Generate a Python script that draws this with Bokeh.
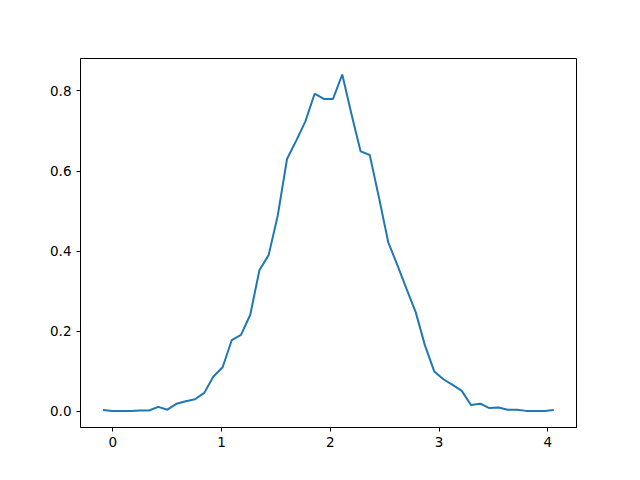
from bokeh.plotting import figure
from bokeh.models import Range1d, FixedTicker, NumeralTickFormatter
from bokeh.embed import file_html
from bokeh.resources import INLINE

x_vals = [-0.090, -0.005, 0.079, 0.164, 0.248, 0.333, 0.418, 0.502, 0.587, 0.671,
          0.756, 0.841, 0.925, 1.010, 1.094, 1.179, 1.264, 1.348, 1.433, 1.517,
          1.602, 1.687, 1.771, 1.856, 1.940, 2.025, 2.110, 2.194, 2.279, 2.363,
          2.448, 2.533, 2.617, 2.702, 2.786, 2.871, 2.956, 3.040, 3.125, 3.209,
          3.294, 3.379, 3.463, 3.548, 3.632, 3.717, 3.802, 3.886, 3.971, 4.055]
y_vals = [0.003, 0.001, 0.001, 0.001, 0.002, 0.002, 0.011, 0.004, 0.019, 0.025,
          0.030, 0.046, 0.087, 0.110, 0.178, 0.191, 0.241, 0.352, 0.390, 0.489,
          0.630, 0.676, 0.724, 0.793, 0.780, 0.780, 0.841, 0.743, 0.649, 0.640,
          0.533, 0.422, 0.365, 0.305, 0.247, 0.164, 0.0995, 0.080, 0.066, 0.051,
          0.0155, 0.019, 0.008, 0.0095, 0.004, 0.004, 0.001, 0.001, 0.001, 0.003]
x_ticks = [0, 1, 2, 3, 4]
y_ticks = [0.0, 0.2, 0.4, 0.6, 0.8]

p = figure(width=632, height=472, output_backend="svg", toolbar_location=None,
           x_range=Range1d(-0.297, 4.264), y_range=Range1d(-0.0405, 0.881),
           min_border_left=80, min_border_right=56, min_border_top=58, min_border_bottom=45)
p.line(x_vals, y_vals, line_color="#1f77b4", line_width=2)

p.grid.visible = False
p.outline_line_color = "black"
p.outline_line_width = 1
p.xaxis.ticker = FixedTicker(ticks=x_ticks)
p.yaxis.ticker = FixedTicker(ticks=y_ticks)
p.yaxis.formatter = NumeralTickFormatter(format="0.0")
for ax in (p.xaxis, p.yaxis):
    ax.axis_line_color = "black"
    ax.major_tick_line_color = "black"
    ax.major_tick_in = 0
    ax.major_tick_out = 4
    ax.minor_tick_line_color = None
    ax.major_label_text_color = "black"
    ax.major_label_text_font = "DejaVu Sans"
    ax.major_label_text_font_size = "13.5px"
    ax.major_label_standoff = 5

open("out.html", "w").write(file_html(p, INLINE))
